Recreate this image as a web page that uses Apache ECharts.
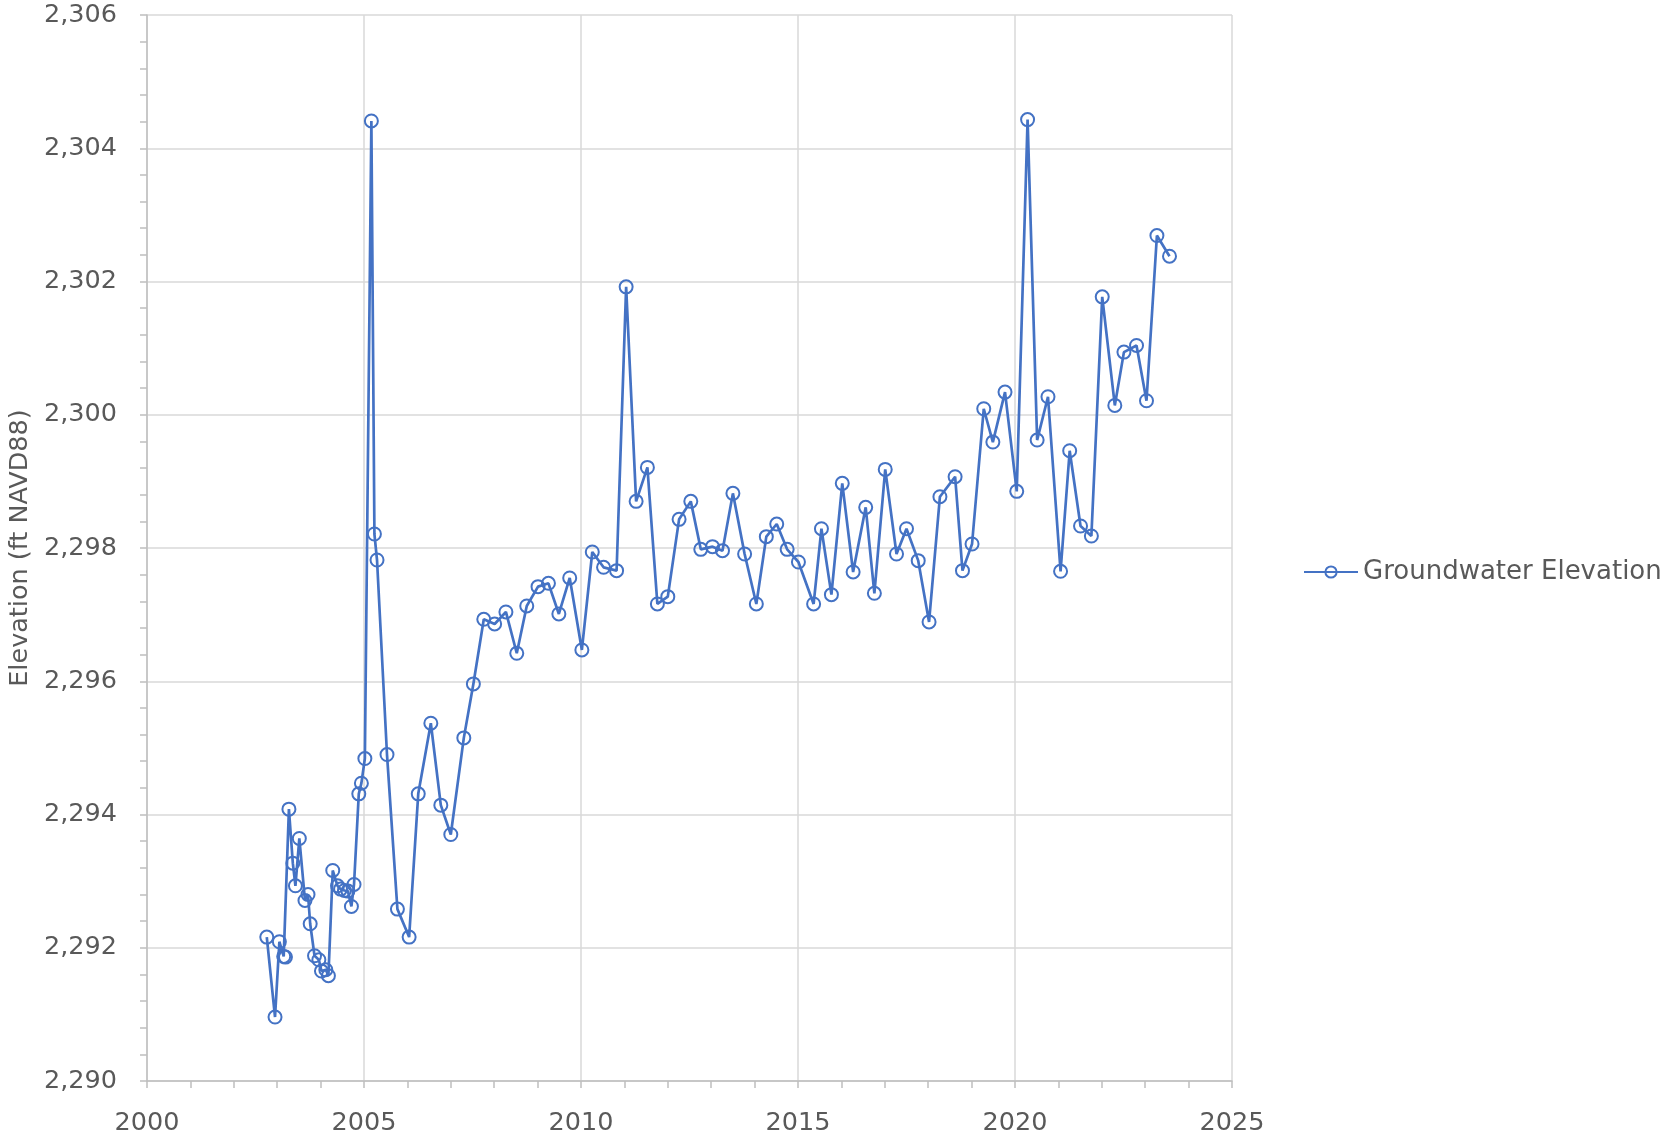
<!DOCTYPE html>
<html>
<head>
<meta charset="utf-8">
<title>Groundwater Elevation</title>
<script src="https://cdn.jsdelivr.net/npm/echarts@6/dist/echarts.min.js"></script>
<style>
  html, body { margin: 0; padding: 0; background: #fff; }
  #chart { width: 1674px; height: 1138px; }
</style>
</head>
<body>
<div id="chart"></div>
<script>
// sample dates (decimal years) and elevations
const years = [
  2002.76, 2002.95, 2003.05, 2003.15, 2003.19, 2003.27, 2003.36, 2003.42, 2003.51, 2003.64,
  2003.71, 2003.76, 2003.86, 2003.96, 2004.02, 2004.12, 2004.18, 2004.28, 2004.39, 2004.46,
  2004.55, 2004.63, 2004.71, 2004.77, 2004.88, 2004.94, 2005.02, 2005.17, 2005.24, 2005.30,
  2005.53, 2005.77, 2006.04, 2006.25, 2006.54, 2006.77, 2007.00, 2007.30, 2007.52, 2007.76,
  2008.01, 2008.27, 2008.52, 2008.75, 2009.01, 2009.25, 2009.49, 2009.74, 2010.02, 2010.26,
  2010.52, 2010.82, 2011.04, 2011.27, 2011.53, 2011.76, 2012.00, 2012.26, 2012.53, 2012.76,
  2013.03, 2013.26, 2013.50, 2013.77, 2014.04, 2014.27, 2014.51, 2014.75, 2015.01, 2015.36,
  2015.54, 2015.77, 2016.02, 2016.27, 2016.56, 2016.76, 2017.01, 2017.27, 2017.50, 2017.77,
  2018.02, 2018.27, 2018.62, 2018.79, 2019.01, 2019.28, 2019.49, 2019.77, 2020.04, 2020.29,
  2020.51, 2020.76, 2021.05, 2021.26, 2021.51, 2021.76, 2022.01, 2022.30, 2022.51, 2022.80,
  2023.03, 2023.27, 2023.56
]
const elevation = [
  2292.16, 2290.96, 2292.09, 2291.87, 2291.86, 2294.08, 2293.27, 2292.93, 2293.64, 2292.71,
  2292.80, 2292.36, 2291.88, 2291.82, 2291.65, 2291.67, 2291.58, 2293.16, 2292.93, 2292.88,
  2292.86, 2292.85, 2292.62, 2292.95, 2294.31, 2294.47, 2294.84, 2304.41, 2298.21, 2297.82,
  2294.90, 2292.58, 2292.16, 2294.31, 2295.37, 2294.14, 2293.70, 2295.15, 2295.96, 2296.93,
  2296.86, 2297.04, 2296.42, 2297.13, 2297.42, 2297.47, 2297.01, 2297.55, 2296.47, 2297.94,
  2297.71, 2297.66, 2301.92, 2298.70, 2299.21, 2297.16, 2297.27, 2298.43, 2298.70, 2297.98,
  2298.02, 2297.96, 2298.82, 2297.91, 2297.16, 2298.17, 2298.36, 2297.98, 2297.79, 2297.16,
  2298.29, 2297.30, 2298.97, 2297.64, 2298.61, 2297.32, 2299.18, 2297.91, 2298.29, 2297.81,
  2296.89, 2298.77, 2299.07, 2297.66, 2298.06, 2300.09, 2299.59, 2300.34, 2298.85, 2304.43,
  2299.62, 2300.27, 2297.65, 2299.46, 2298.33, 2298.18, 2301.77, 2300.14, 2300.94, 2301.04,
  2300.21, 2302.69, 2302.38
]
const seriesName = 'Groundwater Elevation'
const yAxisName = 'Elevation (ft NAVD88)'

const lineColor = '#4472C4'
const textColor = '#595959'
const fontFamily = 'DejaVu Sans'

const chart = echarts.init(document.getElementById('chart'), null, { renderer: 'canvas' })

chart.setOption({
  animation: false,
  backgroundColor: '#ffffff',
  textStyle: { fontFamily: fontFamily },
  grid: {
    left: 147,
    right: 442,
    top: 15,
    bottom: 57,
    containLabel: false,
    outerBoundsMode: 'none'
  },
  legend: {
    orient: 'vertical',
    left: 1298,
    top: 554,
    itemWidth: 54,
    itemHeight: 14,
    itemGap: 5,
    data: [seriesName],
    textStyle: { fontSize: 26, color: textColor, fontFamily: fontFamily }
  },
  xAxis: {
    type: 'value',
    min: 2000,
    max: 2025,
    interval: 5,
    axisLine: { show: true, lineStyle: { color: '#bfbfbf', width: 1.5 } },
    axisTick: { show: true, inside: false, length: 7, lineStyle: { color: '#bfbfbf', width: 1.5 } },
    minorTick: { show: true, splitNumber: 5, length: 7, lineStyle: { color: '#bfbfbf', width: 1.5 } },
    splitLine: { show: true, lineStyle: { color: '#d9d9d9', width: 1.5 } },
    axisLabel: {
      margin: 29,
      fontSize: 25.5,
      color: textColor,
      formatter: v => String(v)
    }
  },
  yAxis: {
    type: 'value',
    min: 2290,
    max: 2306,
    interval: 2,
    name: yAxisName,
    nameLocation: 'middle',
    nameGap: 114,
    nameTextStyle: { fontSize: 25.5, color: textColor },
    axisLine: { show: true, lineStyle: { color: '#bfbfbf', width: 1.5 } },
    axisTick: { show: true, inside: false, length: 7, lineStyle: { color: '#bfbfbf', width: 1.5 } },
    minorTick: { show: true, splitNumber: 5, length: 7, lineStyle: { color: '#bfbfbf', width: 1.5 } },
    splitLine: { show: true, lineStyle: { color: '#d9d9d9', width: 1.5 } },
    axisLabel: {
      margin: 30,
      fontSize: 25.5,
      color: textColor,
      formatter: v => v.toLocaleString('en-US')
    }
  },
  series: [{
    name: seriesName,
    type: 'line',
    data: years.map((x, i) => [x, elevation[i]]),
    symbol: 'circle',
    symbolSize: 13,
    showAllSymbol: true,
    lineStyle: { color: lineColor, width: 2.7 },
    itemStyle: { color: 'rgba(255,255,255,0)', borderColor: lineColor, borderWidth: 2 }
  }]
})
</script>
</body>
</html>
